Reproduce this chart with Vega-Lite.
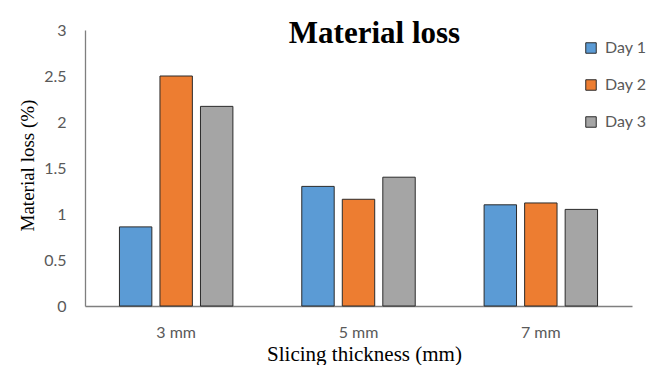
{
  "$schema": "https://vega.github.io/schema/vega-lite/v6.json",
  "width": 547,
  "height": 276,
  "autosize": {"type": "none"},
  "padding": {"left": 85, "top": 30, "right": 19, "bottom": 59},
  "background": "white",
  "title": {
    "text": "Material loss",
    "font": "Liberation Serif",
    "fontSize": 31,
    "fontWeight": "bold",
    "color": "#000000",
    "anchor": "middle",
    "dx": 16,
    "dy": 32
  },
  "data": {
    "values": [
      {"thickness": "3 mm", "day": "Day 1", "loss": 0.86},
      {"thickness": "3 mm", "day": "Day 2", "loss": 2.50},
      {"thickness": "3 mm", "day": "Day 3", "loss": 2.17},
      {"thickness": "5 mm", "day": "Day 1", "loss": 1.30},
      {"thickness": "5 mm", "day": "Day 2", "loss": 1.16},
      {"thickness": "5 mm", "day": "Day 3", "loss": 1.40},
      {"thickness": "7 mm", "day": "Day 1", "loss": 1.10},
      {"thickness": "7 mm", "day": "Day 2", "loss": 1.12},
      {"thickness": "7 mm", "day": "Day 3", "loss": 1.05}
    ]
  },
  "mark": {"type": "bar", "stroke": "#2b2b2b", "strokeWidth": 1},
  "encoding": {
    "x": {
      "field": "thickness",
      "type": "nominal",
      "scale": {"paddingInner": 0, "paddingOuter": 0},
      "axis": {
        "title": "Slicing thickness (mm)",
        "titleFont": "Liberation Serif",
        "titleFontSize": 21,
        "titleFontWeight": "normal",
        "titleColor": "#000000",
        "titleX": 279,
        "titleY": 54,
        "titleBaseline": "alphabetic",
        "labelAngle": 0,
        "labelFont": "Lato",
        "labelFontSize": 16,
        "labelColor": "#595959",
        "labelPadding": 18,
        "ticks": false,
        "domainColor": "#7f7f7f",
        "domainWidth": 1.3
      }
    },
    "xOffset": {
      "field": "day",
      "scale": {"paddingInner": 0.2, "paddingOuter": 0.85}
    },
    "y": {
      "field": "loss",
      "type": "quantitative",
      "scale": {"domain": [0, 3]},
      "axis": {
        "title": "Material loss (%)",
        "titleFont": "Liberation Serif",
        "titleFontSize": 19,
        "titleFontWeight": "normal",
        "titleColor": "#000000",
        "titleX": -58,
        "titleY": 135,
        "titleBaseline": "middle",
        "titleAngle": -90,
        "values": [0, 0.5, 1, 1.5, 2, 2.5, 3],
        "format": "~g",
        "labelFont": "Lato",
        "labelFontSize": 16,
        "labelColor": "#595959",
        "labelPadding": 19,
        "ticks": false,
        "grid": false,
        "domainColor": "#7f7f7f",
        "domainWidth": 1.3
      }
    },
    "color": {
      "field": "day",
      "type": "nominal",
      "scale": {"domain": ["Day 1", "Day 2", "Day 3"], "range": ["#5B9BD5", "#ED7D31", "#A5A5A5"]},
      "legend": {
        "title": null,
        "orient": "none",
        "legendX": 498,
        "legendY": 10,
        "symbolType": "square",
        "symbolSize": 110,
        "symbolStrokeColor": "#2b2b2b",
        "symbolStrokeWidth": 1,
        "labelFont": "Lato",
        "labelFontSize": 16,
        "labelColor": "#595959",
        "labelOffset": 6,
        "rowPadding": 21
      }
    }
  },
  "config": {
    "view": {"stroke": null},
    "font": "Lato"
  }
}
